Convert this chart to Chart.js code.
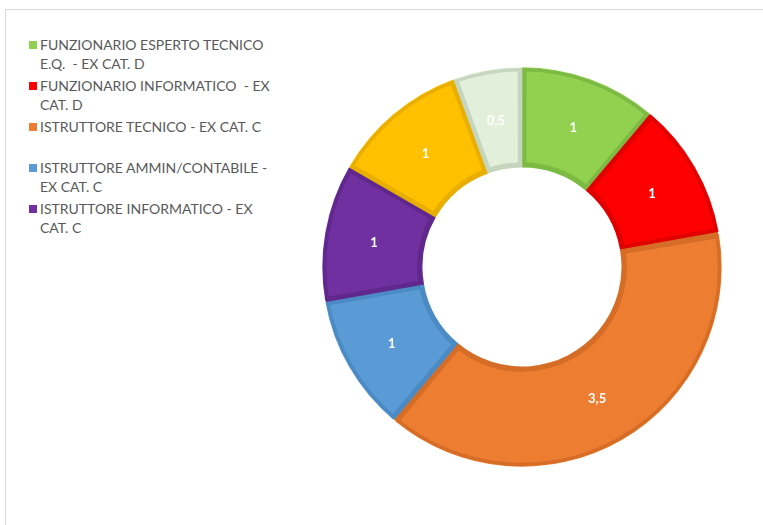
<!DOCTYPE html>
<html>
<head>
<meta charset="utf-8">
<script src="https://cdn.jsdelivr.net/npm/chart.js@4/dist/chart.umd.min.js"></script>
<style>
  body { margin: 0; background: #fff; width: 763px; height: 525px; overflow: hidden; position: relative; }
  #frame { position: absolute; left: 5px; top: 9px; width: 800px; height: 600px; border: 1px solid #d9d9d9; box-sizing: border-box; }
  #legend { position: absolute; left: 29px; top: 36px; width: 260px; font-family: Lato, "Open Sans", sans-serif; font-size: 14px; color: #595959; }
  .item { position: relative; padding-left: 11px; line-height: 18.5px; margin-bottom: 4px; }
  .box { position: absolute; left: 0; top: 5px; width: 8px; height: 8px; }
  #wrap { position: absolute; left: 322px; top: 67px; width: 400px; height: 400px; }
</style>
</head>
<body>
<div id="frame"></div>
<div id="legend"></div>
<div id="wrap"><canvas id="donut" width="400" height="400"></canvas></div>
<script>
// categories (last two are not named in the visible legend)
const categories = [
  ["FUNZIONARIO ESPERTO TECNICO", "E.Q.  - EX CAT. D"],
  ["FUNZIONARIO INFORMATICO  - EX", "CAT. D"],
  ["ISTRUTTORE TECNICO - EX CAT. C", ""],
  ["ISTRUTTORE AMMIN/CONTABILE -", "EX CAT. C"],
  ["ISTRUTTORE INFORMATICO - EX", "CAT. C"],
  [],
  []
];
const values = [1, 1, 3.5, 1, 1, 1, 0.5];
const fillColors = ["#92D050", "#FF0000", "#ED7D31", "#5B9BD5", "#7030A0", "#FFC000", "#E2EFDA"];
const edgeColors = ["#7DBA43", "#E00000", "#D56D27", "#4C8AC4", "#60278C", "#E8AE00", "#C6D5BD"];

// html legend
const legend = document.getElementById("legend");
categories.forEach((lines, i) => {
  if (!lines.length) return;
  const div = document.createElement("div");
  div.className = "item";
  div.innerHTML = '<span class="box" style="background:' + fillColors[i] + '"></span>' +
    lines.map(l => l === "" ? "&nbsp;" : l.replace(/  /g, " &nbsp;")).join("<br>");
  legend.appendChild(div);
});

const sliceLabels = {
  id: "sliceLabels",
  afterDatasetsDraw(chart) {
    const ctx = chart.ctx;
    const meta = chart.getDatasetMeta(0);
    ctx.save();
    ctx.fillStyle = "#ffffff";
    ctx.font = "bold 13px Lato, sans-serif";
    ctx.textAlign = "center";
    ctx.textBaseline = "middle";
    meta.data.forEach((arc, i) => {
      const p = arc.tooltipPosition();
      ctx.fillText(String(values[i]).replace(".", ","), p.x, p.y + 2);
    });
    ctx.restore();
  }
};

new Chart(document.getElementById("donut"), {
  type: "doughnut",
  data: {
    labels: categories.map(c => c.join(" ")),
    datasets: [
      {
        data: values,
        backgroundColor: fillColors,
        borderColor: edgeColors,
        borderWidth: 4,
        borderAlign: "inner",
        spacing: 2,
      },
    ],
  },
  options: {
    responsive: false,
    animation: false,
    cutout: "50%",
    layout: { padding: 0 },
    plugins: {
      legend: { display: false },
      tooltip: { enabled: false },
    },
  },
  plugins: [sliceLabels],
});
</script>
</body>
</html>
